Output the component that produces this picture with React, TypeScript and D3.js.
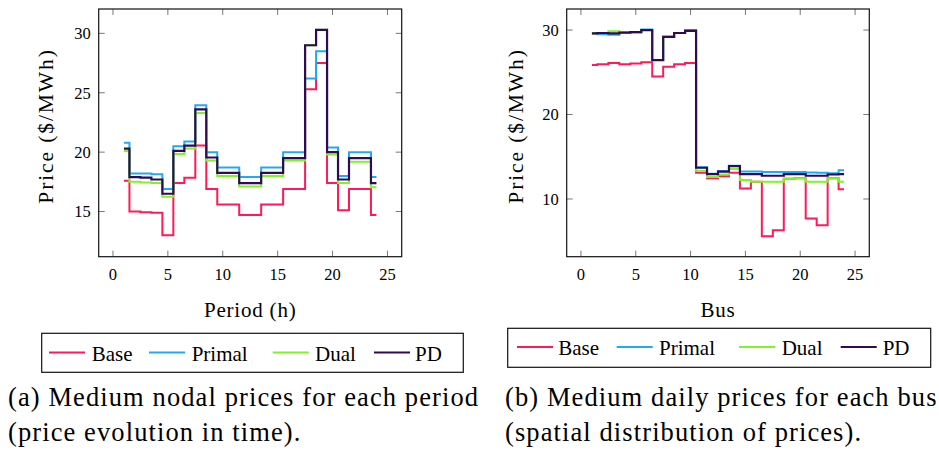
import React from 'react';
import * as d3 from 'd3';

// ---------- data ----------
const periods = [1, 2, 3, 4, 5, 6, 7, 8, 9, 10, 11, 12, 13, 14, 15, 16, 17, 18, 19, 20, 21, 22, 23, 24];
const buses = [1, 2, 3, 4, 5, 6, 7, 8, 9, 10, 11, 12, 13, 14, 15, 16, 17, 18, 19, 20, 21, 22, 23, 24];

const seriesNames = ['Base', 'Primal', 'Dual', 'PD'];
const seriesColors = ['#ff1a57', '#22a9f5', '#7df526', '#300a52'];

// (a) nodal prices per period
const periodBase = [17.6, 15.0, 14.95, 14.9, 13.0, 17.4, 17.85, 20.55, 16.9, 15.6, 15.6, 14.7, 14.7, 15.6, 15.6, 16.9, 16.9, 25.3, 27.5, 17.4, 15.1, 16.9, 16.9, 14.7];
const periodPrimal = [20.8, 18.2, 18.2, 18.15, 16.9, 20.5, 20.9, 23.95, 20.0, 18.7, 18.7, 17.9, 17.9, 18.7, 18.7, 20.0, 20.0, 26.2, 28.5, 20.4, 18.0, 20.0, 20.0, 17.9];
const periodDual = [20.1, 17.5, 17.45, 17.4, 16.25, 19.85, 20.3, 23.3, 19.3, 18.0, 18.0, 17.1, 17.1, 18.0, 18.0, 19.3, 19.3, 29.0, 30.3, 19.8, 17.4, 19.2, 19.2, 17.05];
const periodPD = [20.3, 17.9, 17.85, 17.7, 16.5, 20.1, 20.55, 23.6, 19.55, 18.25, 18.25, 17.4, 17.4, 18.25, 18.25, 19.5, 19.5, 29.0, 30.3, 20.0, 17.7, 19.5, 19.5, 17.4];

// (b) daily prices per bus
const busBase = [25.85, 25.95, 26.1, 25.95, 26.05, 26.2, 24.5, 25.65, 25.95, 26.1, 13.1, 12.45, 12.7, 13.1, 11.25, 12.05, 5.6, 6.3, 12.4, 12.45, 7.7, 6.9, 12.45, 11.15];
const busPrimal = [29.6, 29.5, 29.45, 29.7, 29.75, 30.05, 26.45, 29.2, 29.65, 30.0, 13.75, 13.0, 13.3, 13.95, 13.25, 13.25, 13.2, 13.2, 13.2, 13.2, 13.15, 13.1, 13.05, 13.4];
const busDual = [29.6, 29.65, 29.85, 29.7, 29.75, 30.0, 26.45, 29.2, 29.65, 29.9, 13.35, 12.6, 12.9, 13.55, 12.25, 12.05, 12.05, 12.05, 12.4, 12.45, 12.05, 12.05, 12.45, 12.05];
const busPD = [29.6, 29.65, 29.6, 29.7, 29.75, 30.0, 26.45, 29.2, 29.65, 29.9, 13.7, 12.95, 13.25, 13.9, 12.95, 12.95, 12.75, 12.75, 12.95, 12.95, 12.75, 12.75, 12.9, 12.95];

const xTicks = [0, 5, 10, 15, 20, 25];
const periodYTicks = [15, 20, 25, 30];
const busYTicks = [10, 20, 30];

const yLabel = 'Price ($/MWh)';
const periodXLabel = 'Period (h)';
const busXLabel = 'Bus';
const captionA = ['(a) Medium nodal prices for each period', '(price evolution in time).'];
const captionB = ['(b) Medium daily prices for each bus', '(spatial distribution of prices).'];

const FONT = '"Liberation Serif"';

type PanelProps = {
  left: number; right: number; top: number; bottom: number;
  xDomain: [number, number]; yDomain: [number, number];
  yTicks: number[]; xs: number[]; values: number[][];
  xLabel: string; yLabelX: number;
};

function Panel(p: PanelProps) {
  const x = d3.scaleLinear().domain(p.xDomain).range([p.left, p.right]);
  const y = d3.scaleLinear().domain(p.yDomain).range([p.bottom, p.top]);
  const line = d3.line<number>()
    .x((_, i) => x(p.xs[i]))
    .y(d => y(d))
    .curve(d3.curveStep);
  const tl = 6;
  const cx = (p.left + p.right) / 2;
  return (
    <g>
      {p.values.map((vals, k) => (
        <path key={k} d={line(vals) || ''} fill="none" stroke={seriesColors[k]}
          strokeWidth={k === 3 ? 2.2 : 2} strokeLinejoin="miter" />
      ))}
      {xTicks.map(t => (
        <g key={'x' + t}>
          <line x1={x(t)} x2={x(t)} y1={p.bottom} y2={p.bottom - tl} stroke="#777" strokeWidth={1} />
          <line x1={x(t)} x2={x(t)} y1={p.top} y2={p.top + tl} stroke="#777" strokeWidth={1} />
          <text x={x(t)} y={280} textAnchor="middle" fontSize={16.5} style={{ fontFamily: FONT }}>{t}</text>
        </g>
      ))}
      {p.yTicks.map(t => (
        <g key={'y' + t}>
          <line x1={p.left} x2={p.left + tl} y1={y(t)} y2={y(t)} stroke="#777" strokeWidth={1} />
          <line x1={p.right} x2={p.right - tl} y1={y(t)} y2={y(t)} stroke="#777" strokeWidth={1} />
          <text x={p.left - 8} y={y(t)} dy="0.35em" textAnchor="end" fontSize={16.5} style={{ fontFamily: FONT }}>{t}</text>
        </g>
      ))}
      <rect x={p.left} y={p.top} width={p.right - p.left} height={p.bottom - p.top}
        fill="none" stroke="#111" strokeWidth={1.2} />
      <text x={cx} y={317} textAnchor="middle" fontSize={21}
        style={{ fontFamily: FONT, letterSpacing: '0.8px' }}>{p.xLabel}</text>
      <text transform={`translate(${p.yLabelX},126) rotate(-90)`} textAnchor="middle" dy="0.35em"
        fontSize={21.5} style={{ fontFamily: FONT, letterSpacing: '1.9px' }}>{yLabel}</text>
    </g>
  );
}

type LegendProps = { bx: number; by: number; bw: number; bh: number; lineXs: number[]; textXs: number[]; ly: number; ty: number };

function Legend(p: LegendProps) {
  return (
    <g>
      <rect x={p.bx} y={p.by} width={p.bw} height={p.bh} fill="white" stroke="#111" strokeWidth={1.2} />
      {seriesNames.map((n, i) => (
        <g key={n}>
          <line x1={p.lineXs[i]} x2={p.lineXs[i] + 36} y1={p.ly} y2={p.ly} stroke={seriesColors[i]} strokeWidth={2} />
          <text x={p.textXs[i]} y={p.ty} fontSize={21} style={{ fontFamily: FONT }}>{n}</text>
        </g>
      ))}
    </g>
  );
}

const capStyle = { fontFamily: FONT, letterSpacing: '1.1px' };

export default function App() {
  return (
    <svg width={939} height={459} style={{ position: 'absolute', left: 0, top: 0, background: 'white' }}>
      <rect x={0} y={0} width={939} height={459} fill="white" />
      <Panel left={98.7} right={401.7} top={9} bottom={256.7}
        xDomain={[-1.3, 26.3]} yDomain={[11.2, 32.05]} yTicks={periodYTicks}
        xs={periods} values={[periodBase, periodPrimal, periodDual, periodPD]}
        xLabel={periodXLabel} yLabelX={45} />
      <Panel left={566.7} right={869.3} top={9} bottom={256.7}
        xDomain={[-1.3, 26.3]} yDomain={[3.17, 32.49]} yTicks={busYTicks}
        xs={buses} values={[busBase, busPrimal, busDual, busPD]}
        xLabel={busXLabel} yLabelX={515} />
      <Legend bx={41.7} by={333.3} bw={421.6} bh={39} lineXs={[49, 149, 272.7, 374]}
        textXs={[91.7, 191.7, 315, 415]} ly={352.5} ty={360.5} />
      <Legend bx={507.7} by={328.3} bw={423} bh={39} lineXs={[517, 616.7, 739, 840.7]}
        textXs={[558.3, 659, 781.7, 882.7]} ly={347} ty={355} />
      <text x={8} y={406} fontSize={26.5} style={capStyle}>{captionA[0]}</text>
      <text x={8} y={441} fontSize={26.5} style={capStyle}>{captionA[1]}</text>
      <text x={505} y={406} fontSize={26.5} style={capStyle}>{captionB[0]}</text>
      <text x={505} y={441} fontSize={26.5} style={capStyle}>{captionB[1]}</text>
    </svg>
  );
}
